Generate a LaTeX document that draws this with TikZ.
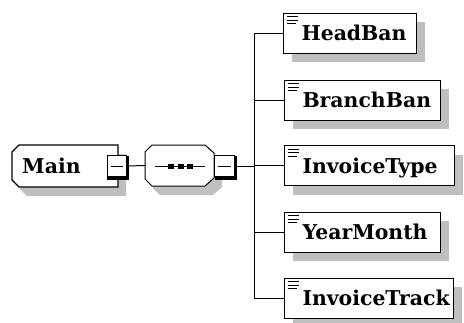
\documentclass[tikz,border=0pt]{standalone}
\usepackage{fontspec}
\setmainfont{DejaVu Serif}
\usetikzlibrary{shadows,calc}
\tikzset{
  lbl/.style={font=\fontsize{20.4}{24}\selectfont\bfseries, inner sep=0pt},
  outl/.style={draw=black, line width=1.1pt, fill=white, line join=miter},
  shd/.style={fill=gray!50},
  minusbox/.style={draw=black, fill=white, line width=1pt, minimum height=21pt, inner sep=0pt},
  thickedge/.style={line width=2.5pt, black},
  conn/.style={line width=1pt, black},
  childbox/.style={draw=black, line width=1pt, fill=white, text width=#1, inner xsep=0pt, inner ysep=0pt,
    text height=15pt, text depth=0pt, minimum height=40pt, align=left, anchor=west,
    font=\fontsize{20.4}{24}\selectfont\bfseries,
    execute at begin node=\hspace*{18pt},
    drop shadow={shadow xshift=8pt, shadow yshift=-9pt, fill=gray!50, opacity=1}},
  icon/.style={line width=1.1pt, black}
}
\begin{document}
\begin{tikzpicture}[x=1pt,y=-1pt]
\useasboundingbox (0,0) rectangle (464,322);
% Main element
\fill[shd] (27,154) -- (126,154) -- (126,196) -- (27,196) -- (20,189) -- (20,161) -- cycle;
\draw[outl] (19,145) -- (118,145) -- (118,187) -- (19,187) -- (12,180) -- (12,152) -- cycle;
\node[lbl, anchor=base west] (main) at (22,173) {Main};
\node[minusbox, minimum width=19pt] (mm) at (116.5,166) {};
\draw[thickedge] ($(mm.north east)+(1.2,1)$) |- ($(mm.south west)+(0.5,1.7)$);
\draw[conn] ([xshift=-6pt]mm.center) -- ([xshift=6pt]mm.center);
% Sequence compositor
\fill[shd] (160,154) -- (213,154) -- (222,162) -- (222,187) -- (213,195) -- (160,195) -- (153,188) -- (153,161) -- cycle;
\draw[outl, line width=1pt] (152,145) -- (205,145) -- (214,153) -- (214,178) -- (205,186) -- (152,186) -- (145,179) -- (145,152) -- cycle;
\node[minimum width=69pt, minimum height=41pt, inner sep=0pt] (seq) at (179.5,165.5) {};
\draw[conn] (155,166) -- (205,166);
\fill (168,163.5) rectangle (174,168.5);
\fill (177.5,163.5) rectangle (183.5,168.5);
\fill (187,163.5) rectangle (193,168.5);
\node[minusbox, minimum width=20pt] (sm) at (224.5,166) {};
\draw[thickedge] ($(sm.north east)+(1.2,1)$) |- ($(sm.south west)+(0.5,1.7)$);
\draw[conn] ([xshift=-6.5pt]sm.center) -- ([xshift=6.5pt]sm.center);
% connectors main -> seq -> bus
\coordinate (bus) at (254,166);
\draw[conn] (mm.east) -- (seq.west);
\draw[conn] (sm.east) -- (bus);
% children
\node[childbox=133pt] (hb) at (283,33) {HeadBan};
\node[childbox=156pt] (bb) at (284,100) {BranchBan};
\node[childbox=170pt] (it) at (284,165.5) {InvoiceType};
\node[childbox=156pt] (ym) at (284,232) {YearMonth};
\node[childbox=169pt] (tr) at (284,298) {InvoiceTrack};
\draw[conn] (bus |- hb.west) -- (bus |- tr.west);
\foreach \n in {hb,bb,it,ym,tr}{
  \draw[conn] (bus |- \n.west) -- (\n.west);
  \draw[icon] ([shift={(4pt,-4.3pt)}]\n.north west) -- ++(11,0);
  \draw[icon] ([shift={(4pt,-7.7pt)}]\n.north west) -- ++(11,0);
  \draw[icon] ([shift={(4pt,-11.1pt)}]\n.north west) -- ++(9,0);
}
\end{tikzpicture}
\end{document}
